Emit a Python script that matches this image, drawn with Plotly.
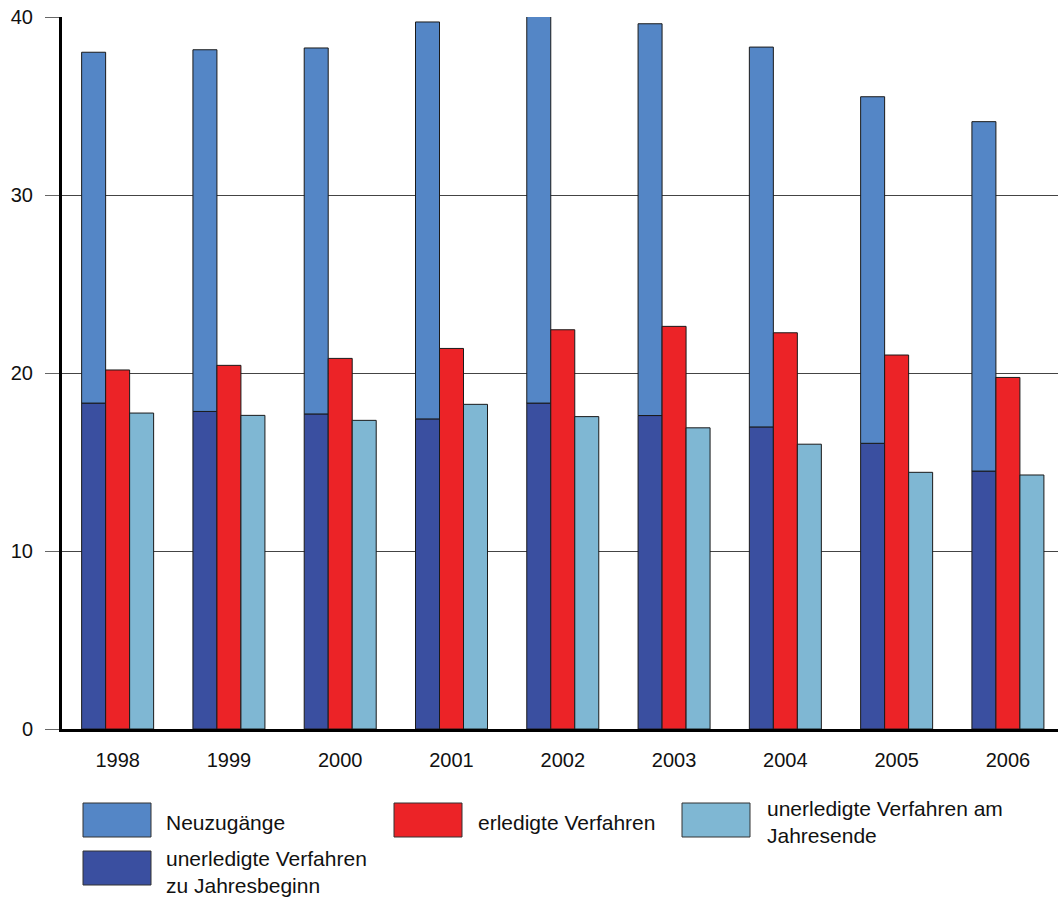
import plotly.graph_objects as go

years = ["1998", "1999", "2000", "2001", "2002", "2003", "2004", "2005", "2006"]
# unerledigte Verfahren zu Jahresbeginn
begin = [18.31, 17.84, 17.70, 17.42, 18.31, 17.61, 16.97, 16.05, 14.49]
# Neuzugänge (stacked on top of Jahresbeginn)
new = [19.71, 20.32, 20.56, 22.30, 21.76, 22.01, 21.34, 19.47, 19.63]
# erledigte Verfahren
done = [20.17, 20.43, 20.82, 21.38, 22.43, 22.62, 22.26, 21.01, 19.75]
# unerledigte Verfahren am Jahresende
end = [17.75, 17.62, 17.34, 18.24, 17.55, 16.92, 16.00, 14.42, 14.27]

yticks = [0, 10, 20, 30, 40]

C_NEW = "#5486C6"
C_BEGIN = "#3A4FA0"
C_DONE = "#EC2327"
C_END = "#7FB7D3"
OUTLINE = dict(color="#1a1a1a", width=1)

W, H = 1058, 897
L, R, T, B = 62, 0, 17, 168

fig = go.Figure()
fig.add_bar(x=years, y=begin, offsetgroup="a", name="unerledigte Verfahren zu Jahresbeginn",
            marker=dict(color=C_BEGIN, line=OUTLINE), cliponaxis=False)
fig.add_bar(x=years, y=new, base=begin, offsetgroup="a", name="Neuzugänge",
            marker=dict(color=C_NEW, line=OUTLINE), cliponaxis=False)
fig.add_bar(x=years, y=done, offsetgroup="b", name="erledigte Verfahren",
            marker=dict(color=C_DONE, line=OUTLINE), cliponaxis=False)
fig.add_bar(x=years, y=end, offsetgroup="c", name="unerledigte Verfahren am Jahresende",
            marker=dict(color=C_END, line=OUTLINE), cliponaxis=False)

# pixel -> paper helpers for the hand-drawn legend
pw = W - L - R
ph = H - T - B
def px(x):
    return (x - L) / pw
def py(y):
    return (H - B - y) / ph

legend_items = [
    ("Neuzugänge", C_NEW, 83, 803, 164, 822),
    ("erledigte Verfahren", C_DONE, 394, 803, 476, 822),
    ("unerledigte Verfahren am<br>Jahresende", C_END, 682, 803, 765, 822),
    ("unerledigte Verfahren<br>zu Jahresbeginn", C_BEGIN, 83, 851, 164, 872),
]
shapes = []
annotations = []
for label, col, bx, by, tx, ty in legend_items:
    shapes.append(dict(type="rect", xref="paper", yref="paper",
                       x0=px(bx), x1=px(bx + 68), y0=py(by), y1=py(by + 34),
                       fillcolor=col, line=dict(color="#333333", width=1)))
    annotations.append(dict(xref="paper", yref="paper", x=px(tx), y=py(ty),
                            text=label, showarrow=False, xanchor="left", yanchor="middle",
                            align="left", font=dict(size=21, color="#111111",
                                                    family="Liberation Sans, Arial, sans-serif")))

fig.update_layout(
    width=W, height=H,
    margin=dict(l=L, r=R, t=T, b=B, pad=0),
    paper_bgcolor="white", plot_bgcolor="white",
    barmode="group", bargap=0.353, bargroupgap=0,
    showlegend=False,
    font=dict(family="Liberation Sans, Arial, sans-serif", size=20, color="#111111"),
    shapes=shapes, annotations=annotations,
    xaxis=dict(type="category", range=[-0.5, 8.45], showline=True, linecolor="black",
               linewidth=3, showgrid=False, ticks="", ticklabelstandoff=11,
               tickfont=dict(size=20)),
    yaxis=dict(range=[0, 40], tickvals=yticks, showline=True, linecolor="black", linewidth=3,
               showgrid=True, gridcolor="#444444", gridwidth=1, ticks="outside", ticklen=14,
               tickcolor="#666666", tickwidth=1, ticklabelstandoff=8, zeroline=False,
               tickfont=dict(size=20)),
)

fig.write_html("out.html")
